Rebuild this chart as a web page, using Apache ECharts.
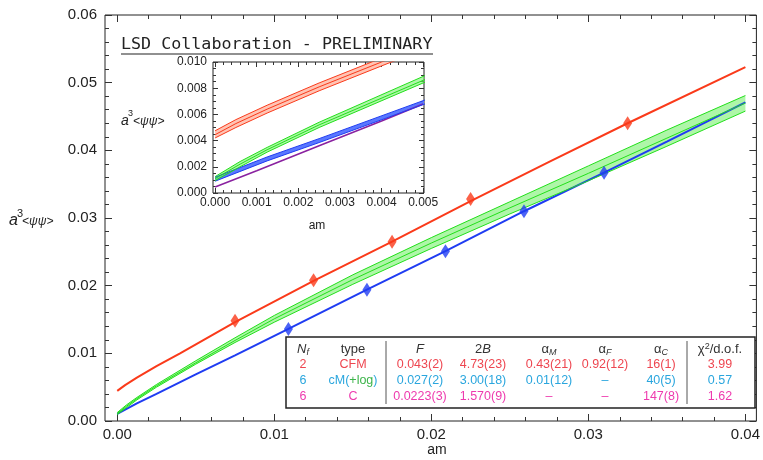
<!DOCTYPE html>
<html>
<head>
<meta charset="utf-8">
<script src="https://cdn.jsdelivr.net/npm/echarts@6/dist/echarts.min.js"></script>
<style>
  html, body { margin: 0; padding: 0; background: #fff; }
  #chart { width: 763px; height: 460px; }
</style>
</head>
<body>
<div id="chart"></div>
<script>
// fit curves, am vs a^3<psibar psi>
const redX = [0, 0.0005, 0.00125, 0.0025, 0.004, 0.0075, 0.0125, 0.0175, 0.0225, 0.0275, 0.0325, 0.04];
const redY = [0.00445, 0.0053, 0.0064, 0.0081, 0.0100, 0.0146, 0.0207, 0.0265, 0.0325, 0.0383, 0.0440, 0.0523];
// red band, only visible in the zoom
const redBandX = [0, 0.0005, 0.00125, 0.0025, 0.004, 0.0055];
const redBandMid = [0.00445, 0.0053, 0.0064, 0.0081, 0.0100, 0.0119];
const redBandLo = [0.00420, 0.0050, 0.0061, 0.0078, 0.0097, 0.0116];
const redBandHi = [0.00475, 0.0056, 0.0067, 0.0084, 0.0103, 0.0122];

const greenX = [0, 0.0006, 0.00125, 0.0025, 0.005, 0.0075, 0.01, 0.015, 0.02, 0.025, 0.03, 0.035, 0.04];
const greenMid = [0.0011, 0.0022, 0.0033, 0.0052, 0.0086, 0.0119, 0.0151, 0.0209, 0.0263, 0.0315, 0.0366, 0.0418, 0.0470];
const greenLo = [0.00095, 0.0020, 0.00312, 0.0050, 0.0084, 0.0116, 0.0146, 0.0202, 0.0255, 0.0306, 0.0355, 0.0406, 0.0458];
const greenHi = [0.00125, 0.0024, 0.00348, 0.0054, 0.0089, 0.0123, 0.0156, 0.0216, 0.0271, 0.0324, 0.0377, 0.0430, 0.0481];

const blueX = [0, 0.00125, 0.0025, 0.005, 0.0075, 0.0109, 0.0159, 0.0209, 0.0259, 0.031, 0.035, 0.04];
const blueY = [0.00105, 0.0026, 0.0040, 0.0069, 0.0097, 0.0136, 0.0194, 0.0251, 0.0310, 0.0367, 0.0413, 0.0471];
const blueBandX = [0, 0.00125, 0.0025, 0.005, 0.006];
const blueBandLo = [0.0009, 0.00245, 0.00385, 0.00675, 0.0079];
const blueBandHi = [0.0012, 0.00275, 0.00415, 0.00705, 0.0082];

const purpleX = [0, 0.001, 0.0025, 0.004, 0.005];
const purpleY = [0.00045, 0.0017, 0.0036, 0.0055, 0.0068];

// lattice points
const redPtsX = [0.0075, 0.0125, 0.0175, 0.0225, 0.0325];
const redPtsY = [0.0148, 0.0208, 0.0265, 0.0328, 0.0440];
const bluePtsX = [0.0109, 0.0159, 0.0209, 0.0259, 0.031];
const bluePtsY = [0.0136, 0.0194, 0.0251, 0.0310, 0.0367];

// ticks
const mainXTicks = [0, 0.01, 0.02, 0.03, 0.04];
const mainYTicks = [0, 0.01, 0.02, 0.03, 0.04, 0.05, 0.06];
const insetXTicks = [0, 0.001, 0.002, 0.003, 0.004, 0.005];
const insetYTicks = [0, 0.002, 0.004, 0.006, 0.008, 0.010];

// fit table
const tableHead = ['{i|N}{s|f}', 'type', '{i|F}', '2{i|B}', '{n|α}{s|M}', '{n|α}{s|F}', '{n|α}{s|C}', '{n|χ}{p|2}{n|/d.o.f.}'];
const tableRows = [
  ['2', 'CFM', '0.043(2)', '4.73(23)', '0.43(21)', '0.92(12)', '16(1)', '3.99'],
  ['6', 'cM(+log)', '0.027(2)', '3.00(18)', '0.01(12)', '–', '40(5)', '0.57'],
  ['6', 'C', '0.0223(3)', '1.570(9)', '–', '–', '147(8)', '1.62']
];
const rowColors = ['#ee4650', '#2aa6de', '#ee3aae'];

const RED = '#fa3a1a', GREEN = '#22e01a', BLUE = '#1f3cf2', PURPLE = '#8a22a0';
const FONT = 'Liberation Sans';

const zip = (xs, ys) => xs.map((x, i) => [x, ys[i]]);

function minorTicks(majors, n) {
  let out = [];
  for (let i = 0; i < majors.length - 1; i++) {
    let step = (majors[i + 1] - majors[i]) / n;
    for (let k = 1; k < n; k++) out.push(majors[i] + step * k);
  }
  return out;
}

// 4 axes per dimension: two sides, major + minor ticks, like a framed plot
function frameAxes(grid, sides, min, max, majors, minors, digits, fontSize, majLen, minLen, margin) {
  let axes = [];
  sides.forEach((side, si) => {
    [[majors, majLen], [minors, minLen]].forEach(([vals, len], ti) => {
      axes.push({
        type: 'value', gridIndex: grid, position: side, min: min, max: max,
        axisLine: { show: false, onZero: false },
        splitLine: { show: false },
        axisTick: { show: true, inside: true, length: len, customValues: vals,
          lineStyle: { color: '#333', width: 1 } },
        axisLabel: {
          show: si === 0 && ti === 0, customValues: majors, margin: margin,
          formatter: v => v.toFixed(digits),
          color: '#222', fontSize: fontSize, fontFamily: FONT
        }
      });
    });
  });
  return axes;
}

function bandRender(xs, lo, hi, fill) {
  return function (params, api) {
    if (params.dataIndex !== 0) return;
    let pts = [];
    xs.forEach((x, i) => pts.push(api.coord([x, hi[i]])));
    for (let i = xs.length - 1; i >= 0; i--) pts.push(api.coord([xs[i], lo[i]]));
    return { type: 'polygon', shape: { points: pts }, style: { fill: fill } };
  };
}

function line(xs, ys, color, width, ax) {
  return {
    type: 'line', data: zip(xs, ys), xAxisIndex: ax, yAxisIndex: ax,
    showSymbol: false, symbol: 'none', smooth: false, clip: true,
    lineStyle: { color: color, width: width }, silent: true
  };
}

function band(xs, lo, hi, fill, ax) {
  return {
    type: 'custom', xAxisIndex: ax, yAxisIndex: ax, clip: true, silent: true,
    data: xs.map((x, i) => [x, lo[i], hi[i]]),
    encode: { x: 0, y: [1, 2] },
    renderItem: bandRender(xs, lo, hi, fill)
  };
}

function points(xs, ys, color) {
  return {
    type: 'scatter', data: zip(xs, ys), xAxisIndex: 0, yAxisIndex: 0,
    symbol: 'diamond', symbolSize: [9, 14], itemStyle: { color: color }, z: 5
  };
}

let xAxes = frameAxes(0, ['bottom', 'top'], -0.00078, 0.0407, mainXTicks, minorTicks(mainXTicks, 5), 2, 15, 7, 4, 6)
  .concat(frameAxes(1, ['bottom', 'top'], -0.00005, 0.00502, insetXTicks, minorTicks(insetXTicks, 5), 3, 12, 5, 3, 4));
let yAxes = frameAxes(0, ['left', 'right'], 0, 0.06, mainYTicks, minorTicks(mainYTicks, 5), 2, 15, 7, 4, 8)
  .concat(frameAxes(1, ['left', 'right'], 0, 0.010, insetYTicks, minorTicks(insetYTicks, 4), 3, 12, 5, 3, 6));

const M = 0, I = 4; // axis index of main / inset
let series = [
  // main plot
  line(blueX, blueY, BLUE, 2, M),
  band(greenX, greenLo, greenHi, 'rgba(120,240,110,0.6)', M),
  line(greenX, greenLo, GREEN, 1, M),
  line(greenX, greenHi, GREEN, 1, M),
  line(greenX, greenMid, GREEN, 1, M),
  line(redX, redY, RED, 2, M),
  points(redPtsX, redPtsY, RED),
  points(bluePtsX, bluePtsY, BLUE),
  // zoomed inset
  line(purpleX, purpleY, PURPLE, 1.6, I),
  band(blueBandX, blueBandLo, blueBandHi, '#5a78ff', I),
  line(blueBandX, blueBandLo, BLUE, 1, I),
  line(blueBandX, blueBandHi, BLUE, 1, I),
  band(greenX, greenLo, greenHi, 'rgba(120,240,110,0.6)', I),
  line(greenX, greenLo, GREEN, 1, I),
  line(greenX, greenHi, GREEN, 1, I),
  line(greenX, greenMid, GREEN, 1, I),
  band(redBandX, redBandLo, redBandHi, '#ffc4b4', I),
  line(redBandX, redBandLo, RED, 1, I),
  line(redBandX, redBandHi, RED, 1, I),
  line(redBandX, redBandMid, RED, 1, I)
];

// axis titles, title, table
const txt = (x, y, text, size, extra) => ({
  type: 'text', x: x, y: y, z: 10,
  style: Object.assign({ text: text, fontSize: size, fontFamily: FONT, fill: '#222',
    verticalAlign: 'middle' }, extra || {})
});

function yTitle(x, y, aSize) {
  return [
    txt(x, y, 'a', aSize, { fontStyle: 'italic' }),
    txt(x + aSize * 0.5, y - 7, '3', aSize - 5),
    txt(x + aSize * 0.5 + 5, y + 1, '<ψψ>', 12, { fontStyle: 'italic' })
  ];
}

const colX = [303, 353, 420, 483, 549, 605, 661, 720];
const rowY = [364.5, 381, 397];
const cellRich = {
  i: { fontStyle: 'italic', fontSize: 13, fontFamily: FONT },
  n: { fontSize: 13, fontFamily: FONT },
  s: { fontStyle: 'italic', fontSize: 9, fontFamily: FONT, verticalAlign: 'bottom', padding: [6, 0, 0, 0] },
  p: { fontSize: 9, fontFamily: FONT, verticalAlign: 'top' },
  b: { fontSize: 12.5, fontFamily: FONT, fill: rowColors[1] },
  g: { fontSize: 12.5, fontFamily: FONT, fill: '#3cb44a' }
};

let tableEls = [
  { type: 'rect', shape: { x: 286, y: 337, width: 469, height: 71 }, z: 9,
    style: { fill: '#fff', stroke: '#222', lineWidth: 1.5 } },
  { type: 'line', shape: { x1: 386, y1: 341, x2: 386, y2: 404 }, z: 10, style: { stroke: '#555', lineWidth: 1 } },
  { type: 'line', shape: { x1: 687, y1: 341, x2: 687, y2: 404 }, z: 10, style: { stroke: '#555', lineWidth: 1 } }
];
tableHead.forEach((h, c) => {
  tableEls.push(txt(colX[c], 349, h, 13, { align: 'center', fill: '#333', rich: cellRich }));
});
tableRows.forEach((row, r) => {
  row.forEach((cell, c) => {
    let t = cell === 'cM(+log)' ? '{b|cM(}{g|+log}{b|)}' : cell;
    tableEls.push(txt(colX[c], rowY[r], t, 12.5, { align: 'center', fill: rowColors[r], rich: cellRich }));
  });
});

let graphics = [
  txt(121, 45, 'LSD Collaboration - PRELIMINARY', 16.7, { fontFamily: 'DejaVu Sans Mono', fill: '#222' }),
  { type: 'line', shape: { x1: 121, y1: 54, x2: 433, y2: 54 }, z: 10, style: { stroke: '#222', lineWidth: 1.2 } },
  txt(437, 450, 'am', 14, { align: 'center' }),
  txt(317, 226, 'am', 12, { align: 'center' })
].concat(yTitle(9, 221, 16), yTitle(121, 121, 14), tableEls);

let chart = echarts.init(document.getElementById('chart'), null, { renderer: 'canvas' });
chart.setOption({
  animation: false,
  backgroundColor: '#fff',
  grid: [
    { left: 105, top: 15, right: 4, bottom: 39, show: true, borderColor: '#222', borderWidth: 1 },
    { left: 213, top: 62, width: 211, height: 131, show: true, borderColor: '#222', borderWidth: 1,
      backgroundColor: '#fff' }
  ],
  xAxis: xAxes,
  yAxis: yAxes,
  series: series,
  graphic: graphics
});
</script>
</body>
</html>
